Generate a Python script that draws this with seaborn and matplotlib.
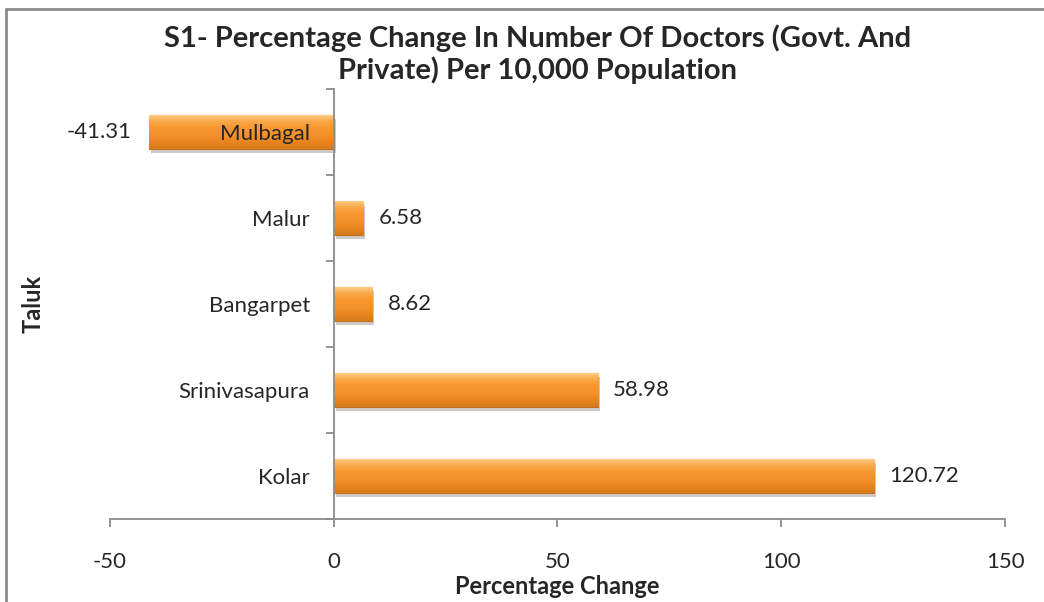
import matplotlib.patheffects as pe
import matplotlib.pyplot as plt
import numpy as np
import pandas as pd
import seaborn as sns
from matplotlib.ticker import FixedLocator

# chart data
taluks = ["Mulbagal", "Malur", "Bangarpet", "Srinivasapura", "Kolar"]
pct_change = [-41.31, 6.58, 8.62, 58.98, 120.72]
x_ticks = [-50, 0, 50, 100, 150]

df = pd.DataFrame({"Taluk": taluks, "Percentage Change": pct_change})

sns.set_style("white")
plt.rcParams["font.family"] = ["Lato", "DejaVu Sans"]

fig = plt.figure(figsize=(10.44, 6.02), dpi=100)
ax = fig.add_axes([0.105, 0.138, 0.858, 0.714])

sns.barplot(
    data=df,
    x="Percentage Change",
    y="Taluk",
    orient="h",
    color="#F79646",
    width=0.40,
    edgecolor="#C0701F",
    linewidth=0.8,
    ax=ax,
)
ax.set_axisbelow(False)

# fake the bevel/gradient look of the original bars
grad = np.linspace(0, 1, 64).reshape(-1, 1)
cmap = sns.blend_palette(
    ["#FDD28C", "#FAA84A", "#F7972F", "#F5922B", "#E8851F", "#D67A1E"], as_cmap=True
)
for bar in ax.patches:
    bar.set_path_effects([pe.SimplePatchShadow(offset=(1.5, -3), alpha=0.25), pe.Normal()])
    x0, y0 = bar.get_x(), bar.get_y()
    w, h = bar.get_width(), bar.get_height()
    im = ax.imshow(
        grad,
        cmap=cmap,
        extent=[x0, x0 + w, y0, y0 + h],
        origin="lower",
        aspect="auto",
        zorder=bar.get_zorder() + 0.1,
        interpolation="bicubic",
    )
    im.set_clip_path(bar)

# value labels
for i, v in enumerate(pct_change):
    if v < 0:
        ax.annotate(f"{v:.2f}", (v, i), xytext=(-12, 0), textcoords="offset points",
                    ha="right", va="center", fontsize=16)
    else:
        ax.annotate(f"{v:.2f}", (v, i), xytext=(11, 0), textcoords="offset points",
                    ha="left", va="center", fontsize=16)

ax.set_xlim(-50, 150)
ax.set_ylim(len(taluks) - 0.5, -0.5)
ax.set_xticks(x_ticks)
ax.set_xticklabels([str(t) for t in x_ticks], fontsize=16)

# y axis sits at zero, ticks between categories
ax.spines["left"].set_position(("data", 0))
ax.spines["top"].set_visible(False)
ax.spines["right"].set_visible(False)
for s in ["left", "bottom"]:
    ax.spines[s].set_color("#8C8C8C")
    ax.spines[s].set_linewidth(1.3)

ax.yaxis.set_minor_locator(FixedLocator(np.arange(-0.5, len(taluks), 1.0)))
ax.tick_params(axis="y", which="major", length=0, pad=17, labelsize=16)
ax.tick_params(axis="y", which="minor", left=True, length=6, color="#8C8C8C", width=1.3)
ax.tick_params(axis="x", which="major", bottom=True, direction="out", length=6,
               color="#8C8C8C", width=1.3, pad=18, labelsize=16)
ax.xaxis.grid(False)
ax.yaxis.grid(False)

ax.set_xlabel("Percentage Change", fontsize=17, fontweight="bold", labelpad=2)
ax.set_ylabel("Taluk", fontsize=17, fontweight="bold")
ax.yaxis.set_label_coords(-0.073, 0.5)

fig.suptitle(
    "S1- Percentage Change In Number Of Doctors (Govt. And\nPrivate) Per 10,000 Population",
    fontsize=21,
    fontweight="bold",
    y=0.96,
    x=0.515,
    linespacing=1.22,
)

# chart border (only top and left edges show in the original crop)
fig.add_artist(plt.Line2D([0.006, 0.006], [0, 0.985], transform=fig.transFigure,
                          color="#8C8C8C", linewidth=2))
fig.add_artist(plt.Line2D([0.006, 1], [0.985, 0.985], transform=fig.transFigure,
                          color="#8C8C8C", linewidth=2))

fig.savefig("out.png", dpi=100)
